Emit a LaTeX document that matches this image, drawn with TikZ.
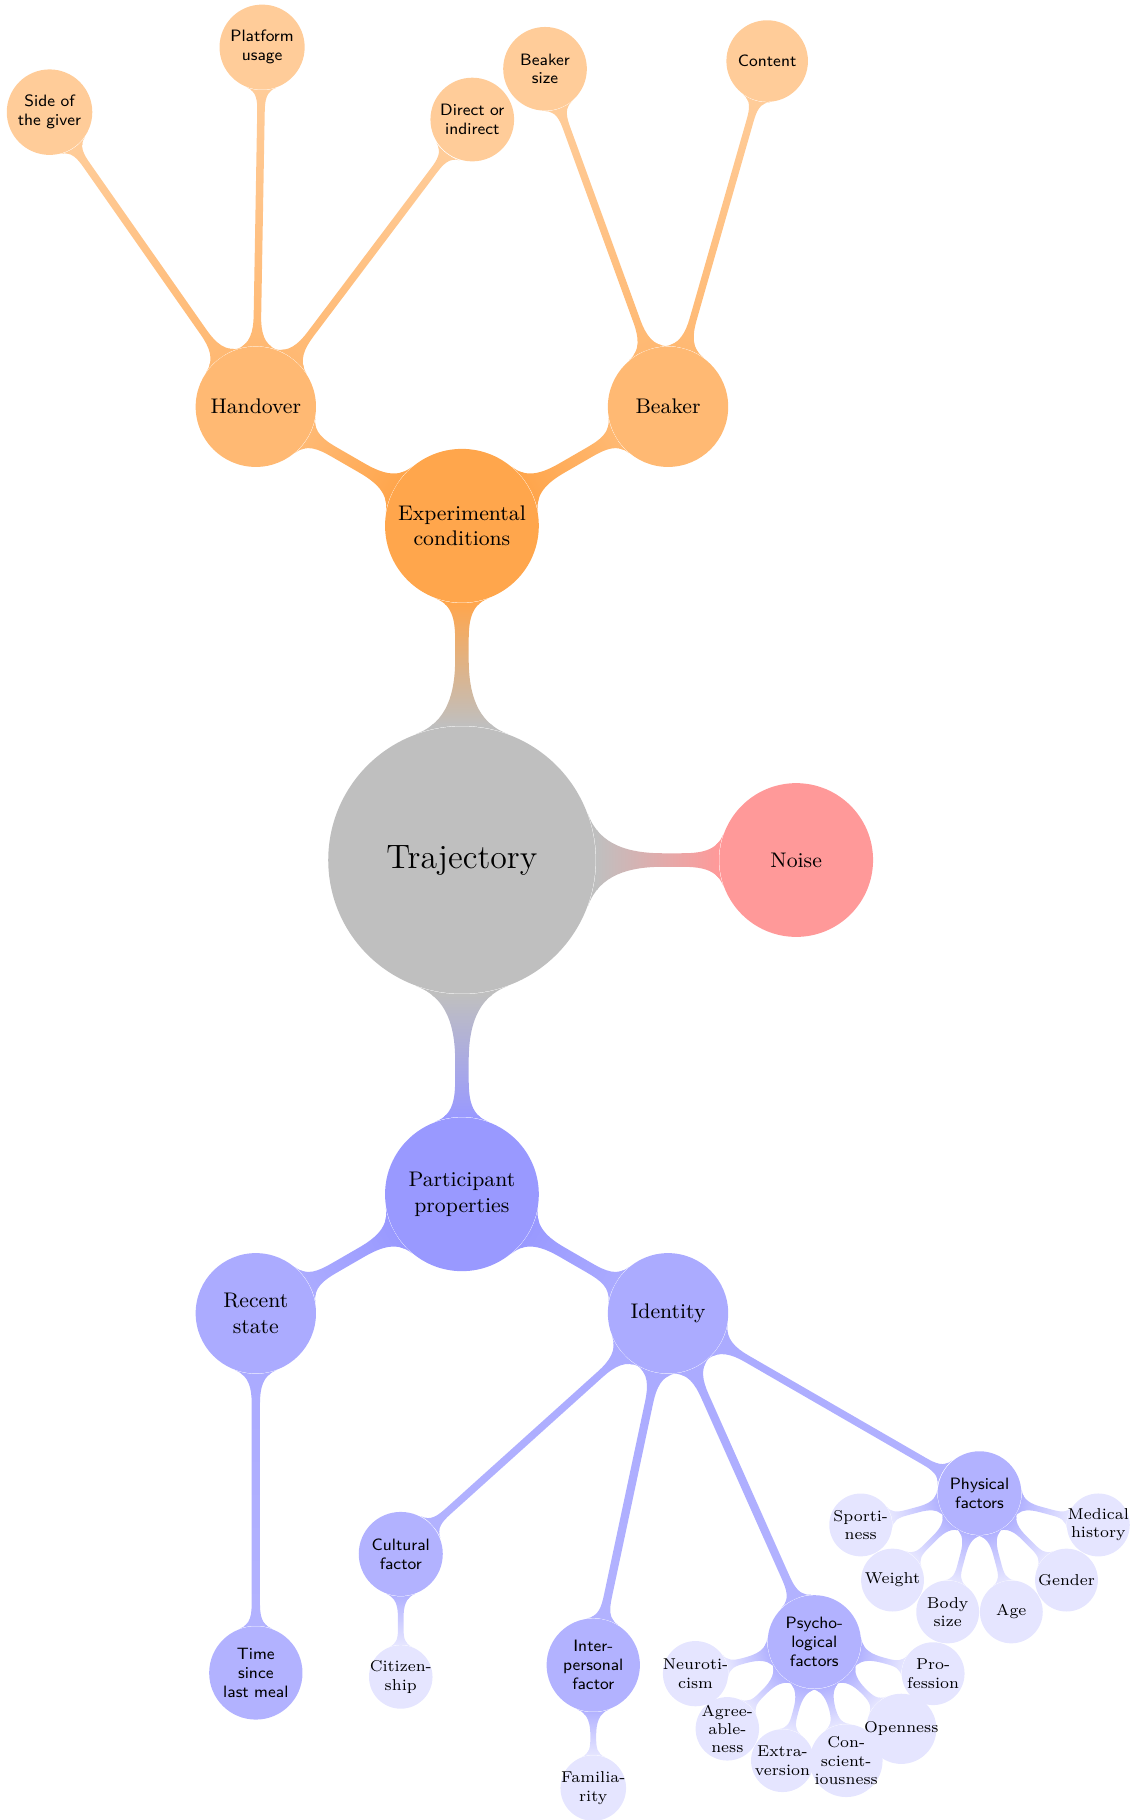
\documentclass[tikz,border=0pt]{standalone}
\usetikzlibrary{mindmap,backgrounds}

\begin{document}
\begin{tikzpicture}[
        every node/.style={circle,align=center,inner sep=0pt},
        rootnode/.style={fill=black!25,minimum size=4cm,text width=3.4cm,font=\Large},
        firstnode/.style={minimum size=2.3cm,text width=2cm,font=\small},
        secondnode/.style={minimum size=1.8cm,text width=1.5cm,font=\small},
        thirdnode/.style={minimum size=1.22cm,inner sep=1.2pt,text width=1.05cm,font=\sffamily\scriptsize},
        fourthnode/.style={minimum size=0.94cm,inner sep=-1pt,font=\fontsize{6.7}{7.8}\selectfont},
        bar0/.style={line width=0.23cm},
        bar1/.style={line width=0.16cm},
        bar2/.style={line width=0.115cm},
        bar3/.style={line width=0.06cm}]
        \useasboundingbox (-6.91,-14.36) rectangle (10.035,12.865);

        % the root and the first level
        \node[rootnode] (traj) at (0,0) {Trajectory};
        \node[firstnode,fill=orange!70] (exp) at (90:5) {Experimental\\conditions};
        \node[firstnode,fill=red!40] (noise) at (0:5) {Noise};
        \node[firstnode,fill=blue!40] (part) at (270:5) {Participant\\properties};

        % second level
        \node[secondnode,fill=orange!55] (hand) at ([shift={(150:3.56)}]exp) {Handover};
        \node[secondnode,fill=orange!55] (beak) at ([shift={(30:3.56)}]exp) {Beaker};
        \node[secondnode,fill=blue!33] (recent) at ([shift={(210:3.56)}]part) {Recent\\state};
        \node[secondnode,fill=blue!33] (ident) at ([shift={(330:3.56)}]part) {Identity};

        % third level
        \foreach \a/\txt/\nm in {125/Side of\\the giver/side, 89/Platform\\usage/plat, 53/Direct or\\indirect/dir}
                \node[thirdnode,fill=orange!40] (\nm) at ([shift={(\a:5.38)}]hand) {\txt};
        \foreach \a/\txt/\nm in {110/Beaker\\size/bsize, 74/Content/cont}
                \node[thirdnode,fill=orange!40] (\nm) at ([shift={(\a:5.38)}]beak) {\txt};
        \node[thirdnode,fill=blue!30] (meal) at ([shift={(270:5.38)}]recent) {Time\\since\\last meal};
        \foreach \a/\txt/\nm in {
            222/Cultural\\factor/cult,
            258/Inter-\\personal\\factor/inter,
            294/Psycho-\\logical\\factors/psy,
            330/Physical\\factors/phys}
                \node[thirdnode,fill=blue!30] (\nm) at ([shift={(\a:5.38)}]ident) {\txt};

        % fourth level
        \node[fourthnode,fill=blue!10] (citi) at ([shift={(270:1.84)}]cult) {Citizen-\\ship};
        \node[fourthnode,fill=blue!10] (fami) at ([shift={(270:1.84)}]inter) {Familia-\\rity};
        \foreach \a/\txt/\nm in {
            195/Neuroti-\\cism/neuro,
            225/Agree-\\able-\\ness/agree,
            255/Extra-\\version/extra,
            285/Con-\\scient-\\iousness/consc,
            315/Openness/open,
            345/Pro-\\fession/prof}
                \node[fourthnode,fill=blue!10] (\nm) at ([shift={(\a:1.84)}]psy) {\txt};
        \foreach \a/\txt/\nm in {
            195/Sporti-\\ness/sport,
            225/Weight/weight,
            255/Body\\size/body,
            285/Age/age,
            315/Gender/gender,
            345/Medical\\history/medic}
                \node[fourthnode,fill=blue!10] (\nm) at ([shift={(\a:1.84)}]phys) {\txt};

        % the connectors, behind the nodes
        \begin{scope}[on background layer]
                \path (traj) to[circle connection bar switch color=from (black!25) to (orange!70),bar0] (exp);
                \path (traj) to[circle connection bar switch color=from (black!25) to (red!40),bar0] (noise);
                \path (traj) to[circle connection bar switch color=from (black!25) to (blue!40),bar0] (part);
                \foreach \c in {hand,beak}
                        \path (exp) to[circle connection bar switch color=from (orange!70) to (orange!55),bar1] (\c);
                \foreach \c in {recent,ident}
                        \path (part) to[circle connection bar switch color=from (blue!40) to (blue!33),bar1] (\c);
                \foreach \c in {side,plat,dir}
                        \path (hand) to[circle connection bar switch color=from (orange!55) to (orange!40),bar2] (\c);
                \foreach \c in {bsize,cont}
                        \path (beak) to[circle connection bar switch color=from (orange!55) to (orange!40),bar2] (\c);
                \path (recent) to[circle connection bar switch color=from (blue!33) to (blue!30),bar2] (meal);
                \foreach \c in {cult,inter,psy,phys}
                        \path (ident) to[circle connection bar switch color=from (blue!33) to (blue!30),bar2] (\c);
                \path (cult) to[circle connection bar switch color=from (blue!30) to (blue!10),bar3] (citi);
                \path (inter) to[circle connection bar switch color=from (blue!30) to (blue!10),bar3] (fami);
                \foreach \c in {neuro,agree,extra,consc,open,prof}
                        \path (psy) to[circle connection bar switch color=from (blue!30) to (blue!10),bar3] (\c);
                \foreach \c in {sport,weight,body,age,gender,medic}
                        \path (phys) to[circle connection bar switch color=from (blue!30) to (blue!10),bar3] (\c);
        \end{scope}
\end{tikzpicture}
\end{document}
